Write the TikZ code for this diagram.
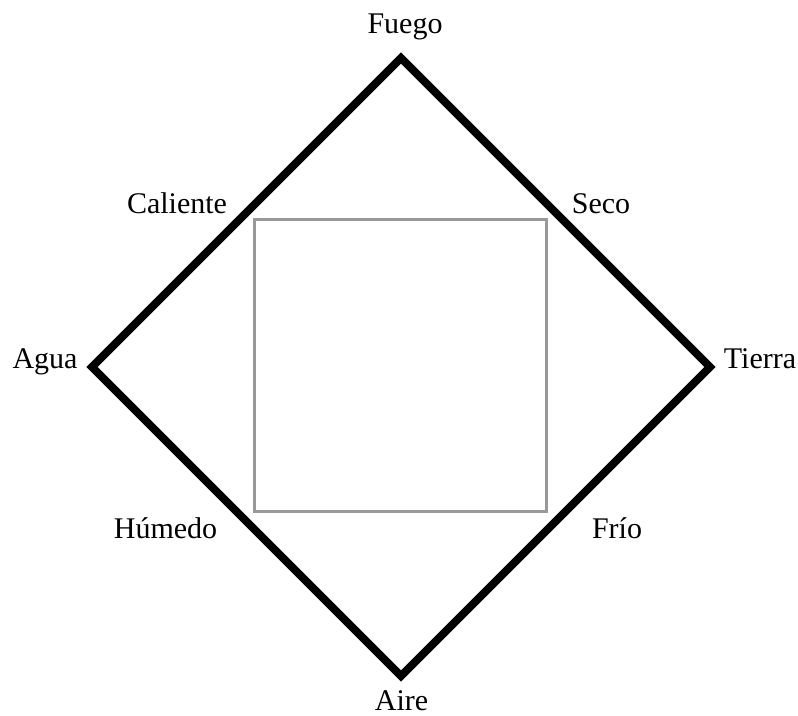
\documentclass[tikz,border=0pt]{standalone}
\usepackage{fontspec}
\setmainfont{Liberation Serif}
\begin{document}
\begin{tikzpicture}[x=1pt,y=-1pt,
  lbl/.style={anchor=base,inner sep=0pt,font=\fontsize{30}{36}\selectfont},
  outer/.style={draw=black,line width=8pt,line join=miter},
  inner/.style={draw=black!40,line width=3pt,line join=miter}]
\useasboundingbox (0,0) rectangle (798,715);
\coordinate (T) at (401,58);
\coordinate (R) at (710,367);
\coordinate (B) at (401,676);
\coordinate (L) at (92,367);
\coordinate (S1) at (254,219);
\coordinate (S2) at (546,511);
\draw[outer] (T) -- (R) -- (B) -- (L) -- cycle;
\draw[inner] (S1) rectangle (S2);
\node[lbl] (fuego) at (405,33) {Fuego};
\node[lbl] (caliente) at (177,213) {Caliente};
\node[lbl] (seco) at (601,213) {Seco};
\node[lbl] (agua) at (45,368) {Agua};
\node[lbl] (tierra) at (760,368) {Tierra};
\node[lbl] (humedo) at (165.5,538) {Húmedo};
\node[lbl] (frio) at (617,538) {Frío};
\node[lbl,text depth=0pt] (aire) at (401.5,710) {Aire};
\end{tikzpicture}
\end{document}
